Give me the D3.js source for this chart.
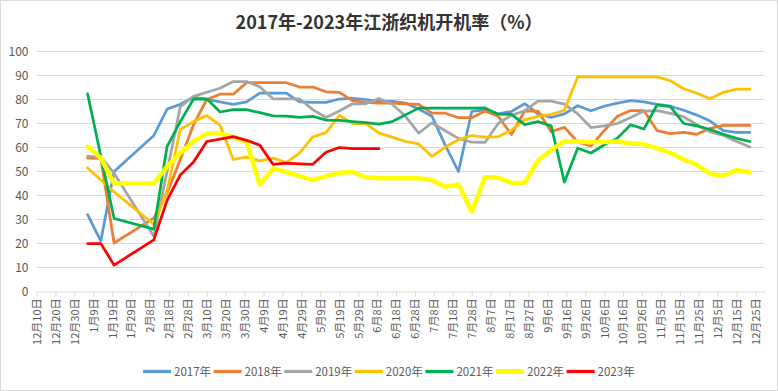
<!DOCTYPE html>
<html>
<head>
<meta charset="utf-8">
<script src="https://cdn.jsdelivr.net/npm/d3@7"></script>
<style>
  body { margin: 0; background: #fff; }
  text { font-family: "Noto Sans CJK SC", "Noto Sans", sans-serif; }
</style>
</head>
<body>
<svg id="chart" width="778" height="391"></svg>
<script>
// data - weekly readings, mapped onto one common year
var weeks = ["01-06","01-13","01-20","01-27","02-03","02-10","02-17","02-24","03-03","03-10",
  "03-17","03-24","03-31","04-07","04-14","04-21","04-28","05-05","05-12","05-19",
  "05-26","06-02","06-09","06-16","06-23","06-30","07-07","07-14","07-21","07-28",
  "08-04","08-11","08-18","08-25","09-01","09-08","09-15","09-22","09-29","10-06",
  "10-13","10-20","10-27","11-03","11-10","11-17","11-24","12-01","12-08","12-15","12-22"];

var y2017 = [32, 21, 50, null, null, 65, 76, 78, 81, 80, 79, 78, 79, 82.7, 82.7, 82.7, 79, 78.8, 78.8, 80.2,
  80.5, 80, 79.2, 79.2, 78.5, 76, 73, 61, 50, 75, 75.7, 74, 75, 78.3, 74, 72.5, 74, 77.4, 75.3, 77.2,
  78.5, 79.5, 79, 78, 77.2, 75.5, 73.5, 71, 67, 66.3, 66.3];
var y2018 = [55.6, 55.5, 20.2, null, null, 30.6, 41, 55, 69.5, 80, 82.2, 82.2, 87, 87, 87, 87, 85.2, 85.2, 83.2, 83,
  79.5, 78.8, 78.5, 78.5, 78.2, 78, 74.3, 74.3, 72.4, 72.4, 75.2, 73, 65.4, 75.2, 75.2, 66.6, 68.4, 62.3, 60.6, 67,
  73, 75.4, 75.4, 67, 65.8, 66.3, 65.5, 68, 69.2, 69.2, 69.2];
var y2019 = [56.3, 56, 49.3, null, null, 23, null, 77, 81.3, 83, 84.7, 87.5, 87.5, 85.3, 80.3, 80.3, 80.3, 75.8, 72.5, 75.2,
  78.2, 78.2, 80.4, 78, 73, 66, 70.3, 67, 63.8, 62.2, 62.1, 70, 73.4, 75.3, 79.3, 79.3, 78.1, 74, 68.3, 69,
  70, 72.5, 75.2, 75.4, 74.2, 72.8, 69.5, 66.5, 65, 62.5, 60.2];
var y2020 = [51.5, 46.5, 41.5, null, null, 28, 42, 67.5, 70.8, 73.3, 69.3, 55, 56, 54.4, 55.6, 53.7, 57.7, 64.4, 66.2, 73.4,
  70, 70, 66, 64.3, 62.5, 61.5, 56.3, 60.2, 63.2, 65, 64.3, 64.5, 67.2, 71.5, 73, 73.8, 75.5, 89.4, 89.4, 89.4,
  89.4, 89.4, 89.4, 89.4, 87.8, 84.5, 82.6, 80.3, 83, 84.3, 84.3];
var y2021 = [82.4, null, 30.4, null, null, 26, 60.4, 70.8, 80.2, 80.3, 74.8, 75.8, 75.8, 74.5, 73.2, 73.1, 72.6, 73, 71.4, 71.3,
  70.8, 70.4, 69.7, 70.8, 73.6, 76.4, 76.4, 76.4, 76.4, 76.4, 76.5, 73.9, 73.8, 69.5, 70.8, 69, 45.6, 59.7, 57.7, 61.1,
  63.9, 69.5, 67.7, 77.8, 77, 70, 69, 67.5, 65.5, 63.8, 62.5];
var y2022 = [60.4, 55.6, 45, null, null, 45, 52, 57.7, 62.5, 65.8, 66, 64.2, 62.5, 44.5, 51.2, 49.8, 48.1, 46.4, 48.1, 49.5,
  49.8, 47.6, 47.2, 47.2, 47.2, 47.2, 46.4, 43.6, 44.6, 33.3, 47.6, 47.4, 45.2, 45.3, 54.5, 59, 62.5, 62.5, 62.2, 62.3,
  62.5, 61.8, 61.3, 59.6, 57.8, 55, 52.8, 49, 48.3, 50.6, 49.6];
var y2023 = [20, 20, 11, null, null, 21.5, 38, 48.6, 54, 62.5, 63.5, 64.5, 63, 61, 53, 53.5, 53.2, 53, 58, 60,
  59.5, 59.5, 59.5];

var seriesNames = ["2017年", "2018年", "2019年", "2020年", "2021年", "2022年", "2023年"];
var seriesValues = [y2017, y2018, y2019, y2020, y2021, y2022, y2023];
var seriesColors = ["#5B9BD5", "#ED7D31", "#A5A5A5", "#FFC000", "#00B050", "#FFFF00", "#FF0000"];
var seriesWidths = [2.75, 2.75, 2.75, 2.75, 2.75, 4.5, 2.75];

var tickLabels = ["12月10日","12月20日","12月30日","1月9日","1月19日","1月29日","2月8日","2月18日","2月28日",
  "3月10日","3月20日","3月30日","4月9日","4月19日","4月29日","5月9日","5月19日","5月29日","6月8日",
  "6月18日","6月28日","7月8日","7月18日","7月28日","8月7日","8月17日","8月27日","9月6日","9月16日",
  "9月26日","10月6日","10月16日","10月26日","11月5日","11月15日","11月25日","12月5日","12月15日","12月25日"];
var yTicks = [0, 10, 20, 30, 40, 50, 60, 70, 80, 90, 100];

// plot box
var plotLeft = 36.5, plotRight = 765, plotTop = 51.5, plotBottom = 291.5;
var svg = d3.select("#chart");

var parseDay = d3.timeParse("%Y-%m-%d");
function labelDate(s, i) {
  var m = +s.split("月")[0], d = +s.split("月")[1].replace("日", "");
  return new Date(i < 3 ? 2016 : 2017, m - 1, d);
}
var tickDates = tickLabels.map(labelDate);

var x = d3.scaleTime()
  .domain([new Date(2016, 11, 10), new Date(2017, 11, 30)])
  .range([plotLeft, plotRight]);
var y = d3.scaleLinear().domain([0, 100]).range([plotBottom, plotTop]);

// outer border
svg.append("rect")
  .attr("x", 0.5).attr("y", 0.5)
  .attr("width", 777).attr("height", 390)
  .attr("fill", "#fff")
  .attr("stroke", "#D9D9D9");

// title
svg.append("text")
  .attr("x", 389).attr("y", 29)
  .attr("text-anchor", "middle")
  .style("font-size", "18px")
  .style("font-weight", "bold")
  .attr("fill", "#333")
  .text("2017年-2023年江浙织机开机率（%）");

// gridlines
svg.append("g").selectAll("line")
  .data(yTicks.slice(1))
  .enter().append("line")
  .attr("x1", plotLeft).attr("x2", plotRight)
  .attr("y1", function (d) { return y(d); })
  .attr("y2", function (d) { return y(d); })
  .attr("stroke", "#D9D9D9");

// y labels
svg.append("g")
  .attr("transform", "translate(" + plotLeft + ",0)")
  .call(d3.axisLeft(y).tickValues(yTicks).tickSize(0).tickPadding(8))
  .call(function (g) { g.select(".domain").remove(); })
  .selectAll("text")
  .attr("fill", "#595959")
  .style("font-size", "12px");

// x axis
var xAxis = svg.append("g")
  .attr("transform", "translate(0," + plotBottom + ")")
  .call(d3.axisBottom(x)
    .tickValues(tickDates)
    .tickFormat(function (d, i) { return tickLabels[i]; })
    .tickSize(5)
    .tickSizeOuter(0));
xAxis.select(".domain").attr("stroke", "#D9D9D9");
xAxis.selectAll(".tick line").attr("stroke", "#D9D9D9");
xAxis.selectAll("text")
  .attr("transform", "rotate(-90)")
  .attr("text-anchor", "end")
  .attr("x", -7)
  .attr("y", 0)
  .attr("dy", "0.35em")
  .attr("fill", "#595959")
  .style("font-size", "11px");

// lines
var line = d3.line()
  .x(function (d) { return x(d.date); })
  .y(function (d) { return y(d.value); });

seriesValues.forEach(function (vals, s) {
  var pts = [];
  vals.forEach(function (v, i) {
    if (v != null) pts.push({ date: parseDay("2017-" + weeks[i]), value: v });
  });
  svg.append("path")
    .datum(pts)
    .attr("fill", "none")
    .attr("stroke", seriesColors[s])
    .attr("stroke-width", seriesWidths[s])
    .attr("stroke-linejoin", "round")
    .attr("stroke-linecap", "round")
    .attr("d", line);
});

// legend
var legend = svg.append("g").selectAll("g")
  .data(seriesNames)
  .enter().append("g")
  .attr("transform", function (d, i) { return "translate(" + (143 + i * 70.6) + ",371.5)"; });
legend.append("line")
  .attr("x1", 0).attr("x2", 28)
  .attr("stroke", function (d, i) { return seriesColors[i]; })
  .attr("stroke-width", function (d, i) { return seriesWidths[i] + 0.5; });
legend.append("text")
  .attr("x", 31).attr("dy", "0.35em")
  .attr("fill", "#595959")
  .style("font-size", "11.5px")
  .text(function (d) { return d; });
</script>
</body>
</html>
